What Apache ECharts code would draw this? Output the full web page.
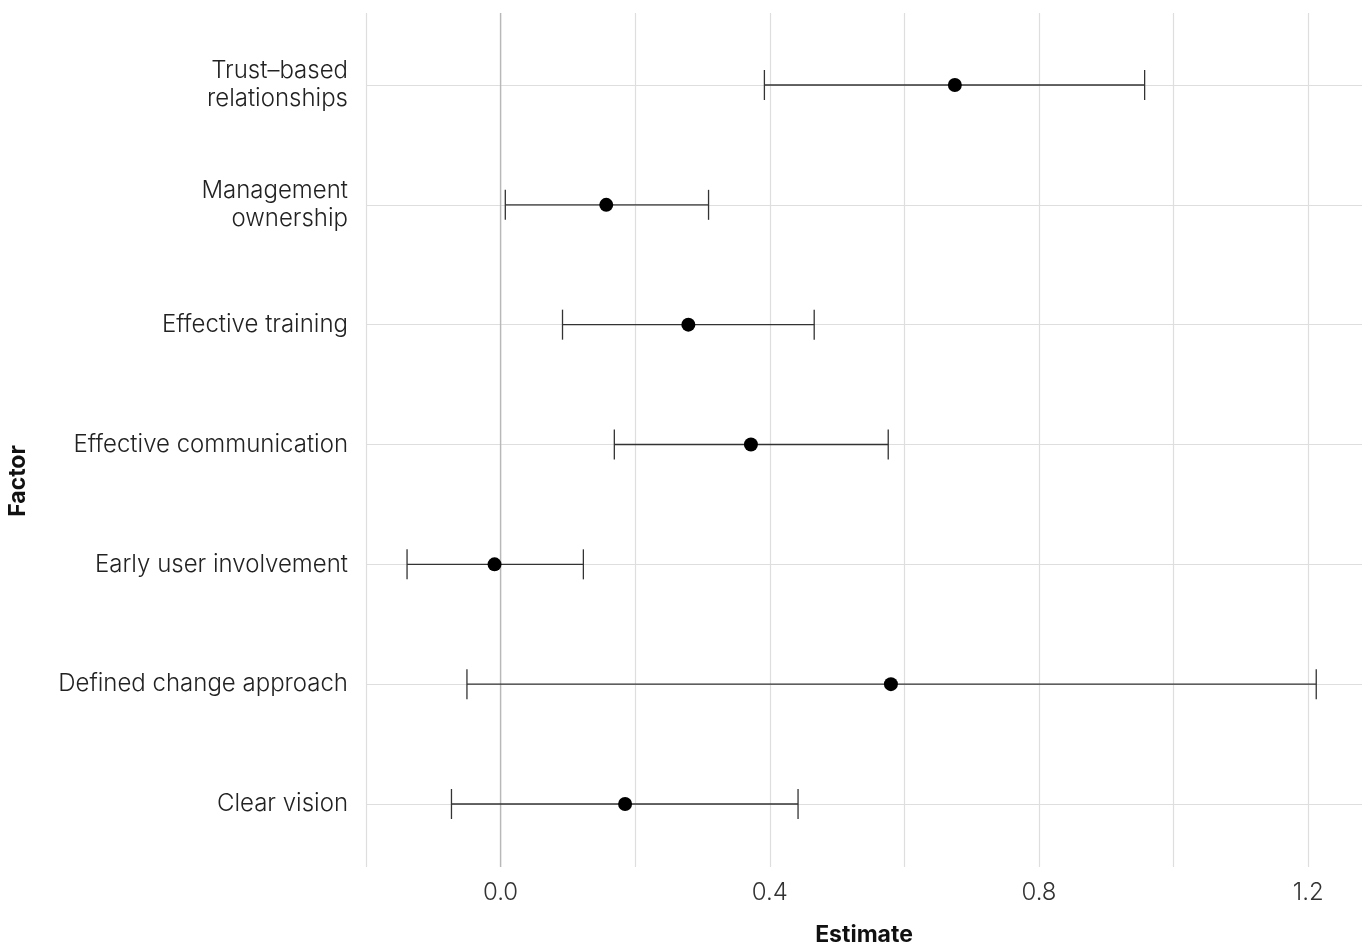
<!DOCTYPE html>
<html>
<head>
<meta charset="utf-8">
<script src="https://cdn.jsdelivr.net/npm/echarts@6/dist/echarts.min.js"></script>
<style>
html,body{margin:0;padding:0;background:#fff;}
#chart{width:1370px;height:952px;}
</style>
</head>
<body>
<div id="chart"></div>
<script>
// Categories from bottom to top
const categories = [
  'Clear vision',
  'Defined change approach',
  'Early user involvement',
  'Effective communication',
  'Effective training',
  'Management\nownership',
  'Trust\u2013based\nrelationships'
];
const estimates = [0.185, 0.580, -0.009, 0.372, 0.279, 0.157, 0.675];
const lower     = [-0.073, -0.050, -0.139, 0.169, 0.092, 0.007, 0.392];
const upper     = [0.442, 1.212, 0.123, 0.576, 0.466, 0.309, 0.957];
const xTickValues = [0.0, 0.4, 0.8, 1.2];

const FONT = 'Inter, "Open Sans", Roboto, sans-serif';
const BOLD_FONT = 'Inter, Roboto, sans-serif';

const chart = echarts.init(document.getElementById('chart'), null, {renderer: 'canvas'});

const pointData = estimates.map((v, i) => [v, i]);
const barData = lower.map((lo, i) => [i, lo, upper[i]]);

const option = {
  backgroundColor: '#fff',
  animation: false,
  grid: [
    {left: 366, right: 8, top: 13, bottom: 76},
    {left: 366, right: 8, top: 85, bottom: 148}
  ],
  xAxis: [
    {
      gridIndex: 0, type: 'value', min: -0.2, max: 1.28, interval: 0.2,
      axisLine: {show: false}, axisTick: {show: false},
      splitLine: {show: true, showMaxLine: false, lineStyle: {color: '#dedede', width: 1.2}},
      axisLabel: {
        fontFamily: FONT, fontWeight: 300, fontSize: 24, color: '#333', margin: 14,
        showMaxLabel: false,
        formatter: function (v) {
          if (xTickValues.some(t => Math.abs(t - v) < 1e-6)) return v.toFixed(1);
          return '';
        }
      },
      name: 'Estimate', nameLocation: 'middle', nameGap: 57,
      nameTextStyle: {fontFamily: BOLD_FONT, fontWeight: 'bold', fontSize: 23, color: '#111'}
    },
    {
      gridIndex: 1, type: 'value', min: -0.2, max: 1.28, show: false
    }
  ],
  yAxis: [
    {gridIndex: 0, type: 'value', min: 0, max: 1, show: false},
    {
      gridIndex: 1, type: 'category', data: categories, boundaryGap: false,
      axisLine: {show: false}, axisTick: {show: false},
      splitLine: {show: true, lineStyle: {color: '#dedede', width: 1.2}},
      axisLabel: {
        fontFamily: FONT, fontWeight: 300, fontSize: 24, color: '#222', margin: 18,
        lineHeight: 28, align: 'right', interval: 0
      }
    }
  ],
  graphic: [
    {
      type: 'text', x: 18, y: 481, rotation: Math.PI / 2,
      style: {text: 'Factor', fontFamily: BOLD_FONT, fontWeight: 'bold', fontSize: 23, fill: '#111',
        align: 'center', verticalAlign: 'middle'}
    }
  ],
  series: [
    {
      type: 'line', xAxisIndex: 0, yAxisIndex: 0, data: [[0, 0], [0, 1]],
      symbol: 'none', silent: true, lineStyle: {color: '#b8b8b8', width: 1.4}, z: 1
    },
    {
      type: 'custom', xAxisIndex: 1, yAxisIndex: 1, data: barData, z: 3,
      renderItem: function (params, api) {
        const cat = api.value(0);
        const p1 = api.coord([api.value(1), cat]);
        const p2 = api.coord([api.value(2), cat]);
        const h = 15;
        const style = {stroke: '#333', lineWidth: 1.3};
        return {
          type: 'group',
          children: [
            {type: 'line', shape: {x1: p1[0], y1: p1[1], x2: p2[0], y2: p2[1]}, style: style},
            {type: 'line', shape: {x1: p1[0], y1: p1[1] - h, x2: p1[0], y2: p1[1] + h}, style: style},
            {type: 'line', shape: {x1: p2[0], y1: p2[1] - h, x2: p2[0], y2: p2[1] + h}, style: style}
          ]
        };
      }
    },
    {
      type: 'scatter', xAxisIndex: 1, yAxisIndex: 1, data: pointData, z: 4,
      symbol: 'circle', symbolSize: 14, itemStyle: {color: '#000', opacity: 1}
    }
  ]
};
chart.setOption(option);
</script>
</body>
</html>
